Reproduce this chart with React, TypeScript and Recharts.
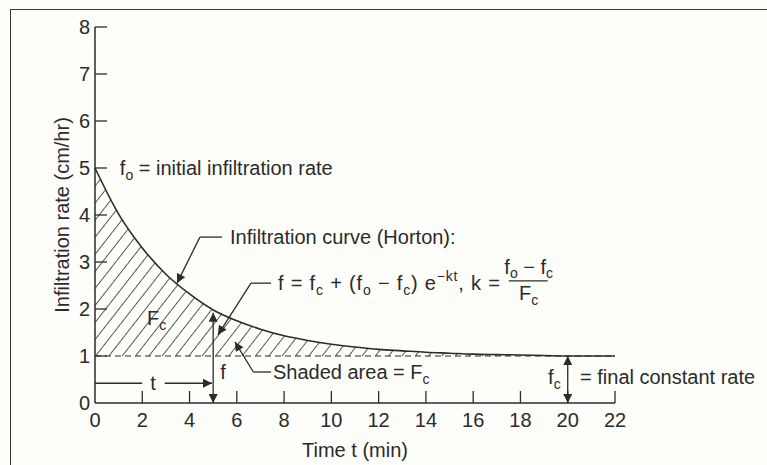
import React from 'react'
import { ComposedChart, Area, XAxis, YAxis, ReferenceLine, ReferenceDot } from 'recharts'

// Horton infiltration curve
const timeMin = [0, 1, 2, 3, 4, 5, 6, 7, 8, 9, 10, 11, 12, 13, 14, 15, 16, 17, 18, 19, 20, 21, 22]
const infiltration = [
  5.0, 4.02, 3.3, 2.74, 2.32, 1.98, 1.75, 1.57, 1.43, 1.33, 1.25, 1.19, 1.14, 1.11, 1.08, 1.06,
  1.04, 1.03, 1.02, 1.01, 1.0, 1.0, 1.0,
]
const xTicks = [0, 2, 4, 6, 8, 10, 12, 14, 16, 18, 20, 22]
const yTicks = [0, 1, 2, 3, 4, 5, 6, 7, 8]
const finalRate = 1
const markTime = 5
const markRate = 1.92
const finalTime = 20

const data = timeMin.map((t, i) => ({ t, f: infiltration[i] }))

const INK = '#2b2b2b'
const FONT = '"Liberation Sans", Arial, sans-serif'
const FS = 20
const SUB = 14

const XTick = (props: any) => {
  const { x, y, payload } = props
  return (
    <g>
      {payload.value > 0 && <line x1={x} x2={x} y1={y} y2={y - 12} stroke={INK} strokeWidth={1.3} />}
      <text x={x} y={y + 24} textAnchor="middle" fontSize={FS} fill={INK} fontFamily={FONT}>
        {payload.value}
      </text>
    </g>
  )
}

const YTick = (props: any) => {
  const { x, y, payload } = props
  return (
    <g>
      {payload.value > 0 && <line x1={x} x2={x + 12} y1={y} y2={y} stroke={INK} strokeWidth={1.3} />}
      <text x={x - 5} y={y + 7} textAnchor="end" fontSize={FS} fill={INK} fontFamily={FONT}>
        {payload.value}
      </text>
    </g>
  )
}

const txt = { fontSize: FS, fill: INK, fontFamily: FONT }

// text anchored at a data point
const note = (key: string, t: number, f: number, render: (x: number, y: number) => React.ReactNode) => (
  <ReferenceDot
    key={key}
    x={t}
    y={f}
    r={0}
    fill="none"
    stroke="none"
    ifOverflow="visible"
    label={{ content: (p: any) => <g>{render(p.viewBox.x, p.viewBox.y)}</g> }}
  />
)

const lineShape = (start: boolean, end: boolean) => (p: any) => (
  <line
    x1={p.x1}
    y1={p.y1}
    x2={p.x2}
    y2={p.y2}
    stroke={INK}
    strokeWidth={1.3}
    markerStart={start ? 'url(#arrowHead)' : undefined}
    markerEnd={end ? 'url(#arrowHead)' : undefined}
  />
)

const seg = (key: string, a: [number, number], b: [number, number], start = false, end = false) => (
  <ReferenceLine
    key={key}
    segment={[{ x: a[0], y: a[1] }, { x: b[0], y: b[1] }]}
    ifOverflow="visible"
    shape={lineShape(start, end)}
  />
)

export default function App() {
  return (
    <div style={{ position: 'absolute', left: 0, top: 0, width: 767, height: 465, background: '#fdfdf9' }}>
      <div
        style={{
          position: 'absolute',
          left: 10,
          top: 9,
          right: 0,
          bottom: 0,
          borderTop: '1.5px solid #3a3a3a',
          borderLeft: '1.5px solid #3a3a3a',
        }}
      />
      <ComposedChart
        width={767}
        height={465}
        data={data}
        margin={{ top: 27, right: 152, left: 35, bottom: 2 }}
        style={{ position: 'absolute', left: 0, top: 0 }}
      >
        <defs>
          <pattern id="hatch" patternUnits="userSpaceOnUse" width="10.5" height="10.5" patternTransform="rotate(38)">
            <line x1="0" y1="0" x2="0" y2="10.5" stroke="#222" strokeWidth="1.5" />
          </pattern>
          <marker
            id="arrowHead"
            viewBox="0 0 10 10"
            refX="10"
            refY="5"
            markerWidth="12"
            markerHeight="9"
            markerUnits="userSpaceOnUse"
            orient="auto-start-reverse"
          >
            <path d="M0,0 L10,5 L0,10 z" fill={INK} />
          </marker>
        </defs>
        <XAxis
          dataKey="t"
          type="number"
          domain={[0, 22]}
          ticks={xTicks}
          interval={0}
          height={60}
          tickSize={0}
          tickMargin={0}
          tick={<XTick />}
          axisLine={{ stroke: INK, strokeWidth: 1.5 }}
          label={{ value: 'Time t (min)', position: 'insideBottom', offset: 6, style: txt }}
        />
        <YAxis
          type="number"
          domain={[0, 8]}
          ticks={yTicks}
          interval={0}
          width={60}
          tickSize={0}
          tickMargin={0}
          tick={<YTick />}
          axisLine={{ stroke: INK, strokeWidth: 1.5 }}
          label={{ value: 'Infiltration rate (cm/hr)', angle: -90, position: 'center', dx: -3, style: txt }}
        />
        <ReferenceLine y={finalRate} stroke={INK} strokeWidth={1.2} strokeDasharray="6 4" />
        <Area
          type="monotone"
          dataKey="f"
          baseValue={finalRate}
          stroke={INK}
          strokeWidth={1.6}
          fill="url(#hatch)"
          fillOpacity={1}
          dot={false}
          activeDot={false}
          isAnimationActive={false}
        />

        {/* leaders and arrows */}
        {seg('hortonH', [4.44, 3.53], [5.37, 3.53])}
        {seg('hortonD', [4.44, 3.53], [3.47, 2.55], false, true)}
        {seg('formH', [6.6, 2.55], [7.45, 2.55])}
        {seg('formD', [6.6, 2.55], [5.2, 1.45], false, true)}
        {seg('shadeH', [7.45, 0.66], [6.7, 0.66])}
        {seg('shadeD', [6.7, 0.66], [5.92, 1.3], false, true)}
        {seg('fArrow', [markTime, 0], [markTime, markRate], true, true)}
        {seg('tLeft', [0, 0.42], [2.0, 0.42])}
        {seg('tRight', [2.95, 0.42], [4.95, 0.42], false, true)}
        {seg('fcArrow', [finalTime, 0], [finalTime, finalRate], true, true)}

        {/* text annotations */}
        {note('fo', 1.05, 5.0, (x, y) => (
          <text x={x} y={y + 7} {...txt}>
            f<tspan dy={5} fontSize={SUB}>o</tspan>
            <tspan dy={-5}> = initial infiltration rate</tspan>
          </text>
        ))}
        {note('horton', 5.71, 3.53, (x, y) => (
          <text x={x} y={y + 7} {...txt}>
            Infiltration curve (Horton):
          </text>
        ))}
        {note('formula', 7.74, 2.55, (x, y) => (
          <text x={x} y={y + 7} textLength={222} lengthAdjust="spacing" {...txt}>
            f = f<tspan dy={5} fontSize={SUB}>c</tspan>
            <tspan dy={-5}> + (f</tspan>
            <tspan dy={5} fontSize={SUB}>o</tspan>
            <tspan dy={-5}> − f</tspan>
            <tspan dy={5} fontSize={SUB}>c</tspan>
            <tspan dy={-5}>) e</tspan>
            <tspan dy={-9} fontSize={SUB}>−kt</tspan>
            <tspan dy={9}>, k =</tspan>
          </text>
        ))}
        {note('frac', 18.35, 2.6, (x, y) => (
          <g>
            <text x={x} y={y - 7} textAnchor="middle" {...txt}>
              f<tspan dy={4} fontSize={SUB}>o</tspan>
              <tspan dy={-4}> − f</tspan>
              <tspan dy={4} fontSize={SUB}>c</tspan>
            </text>
            <line x1={x - 20} x2={x + 19} y1={y} y2={y} stroke={INK} strokeWidth={1.2} />
            <text x={x} y={y + 19} textAnchor="middle" {...txt}>
              F<tspan dy={5} fontSize={SUB}>c</tspan>
            </text>
          </g>
        ))}
        {note('Fc', 2.2, 1.8, (x, y) => (
          <text x={x} y={y + 7} {...txt}>
            F<tspan dy={5} fontSize={SUB}>c</tspan>
          </text>
        ))}
        {note('fLabel', 5.3, 0.66, (x, y) => (
          <text x={x} y={y + 7} {...txt}>
            f
          </text>
        ))}
        {note('tLabel', 2.46, 0.42, (x, y) => (
          <text x={x} y={y + 7} textAnchor="middle" {...txt}>
            t
          </text>
        ))}
        {note('shaded', 7.53, 0.66, (x, y) => (
          <text x={x} y={y + 7} {...txt}>
            Shaded area = F<tspan dy={5} fontSize={SUB}>c</tspan>
          </text>
        ))}
        {note('fcLabel', 19.17, 0.55, (x, y) => (
          <text x={x} y={y + 7} {...txt}>
            f<tspan dy={5} fontSize={SUB}>c</tspan>
          </text>
        ))}
        {note('final', 20.52, 0.55, (x, y) => (
          <text x={x} y={y + 7} {...txt}>
            = final constant rate
          </text>
        ))}
      </ComposedChart>
    </div>
  )
}
